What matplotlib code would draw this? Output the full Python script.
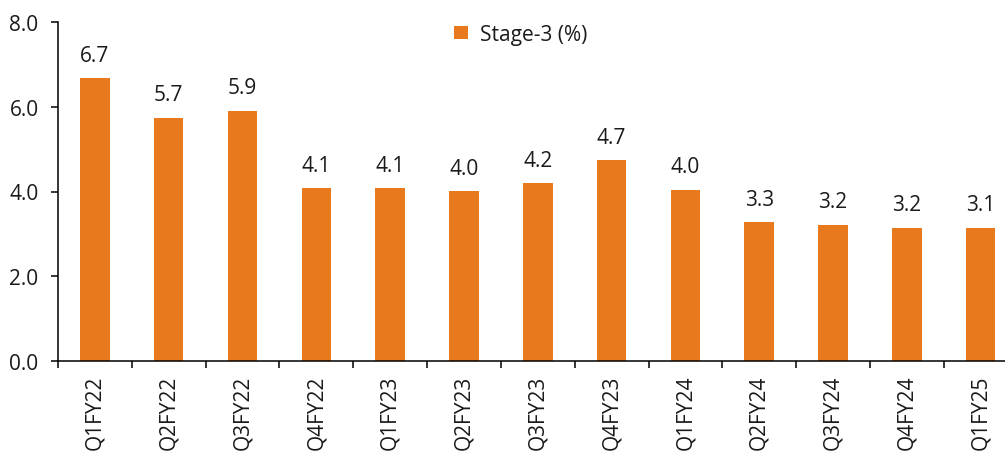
import matplotlib
matplotlib.use("Agg")
import matplotlib.pyplot as plt
import numpy as np

categories = ["Q1FY22", "Q2FY22", "Q3FY22", "Q4FY22", "Q1FY23", "Q2FY23", "Q3FY23",
              "Q4FY23", "Q1FY24", "Q2FY24", "Q3FY24", "Q4FY24", "Q1FY25"]
stage3 = [6.67, 5.74, 5.90, 4.08, 4.08, 4.01, 4.20, 4.74, 4.04, 3.27, 3.21, 3.15, 3.14]
labels = ["6.7", "5.7", "5.9", "4.1", "4.1", "4.0", "4.2", "4.7", "4.0", "3.3", "3.2", "3.2", "3.1"]
yticks = [0.0, 2.0, 4.0, 6.0, 8.0]

plt.rcParams['font.family'] = ['Open Sans', 'DejaVu Sans']
color = "#E8791C"
txt = "#1a1a1a"
fs = 15

fig = plt.figure(figsize=(10.05, 4.56), dpi=100)
ax = fig.add_axes([58/1005, 1-362/456, 959.6/1005, (362-23)/456])

x = np.arange(len(categories))
ax.bar(x, stage3, width=0.4, color=color, label="Stage-3 (%)", zorder=2)
for xi, v, l in zip(x, stage3, labels):
    ax.annotate(l, (xi, v), xytext=(0, 9), textcoords="offset points",
                ha="center", va="bottom", fontsize=fs, color=txt)

ax.set_xlim(-0.5, len(categories) - 0.5)
ax.set_ylim(0, 8)
ax.set_yticks(yticks)
ax.set_yticklabels([f"{t:.1f}" for t in yticks], fontsize=fs, color=txt)
ax.set_xticks(x)
ax.set_xticklabels(categories, rotation=90, fontsize=fs, color=txt)
ax.set_xticks(np.arange(len(categories) + 1) - 0.5, minor=True)
ax.tick_params(axis="x", which="major", length=0, pad=10)
ax.tick_params(axis="x", which="minor", length=5, width=1.1, direction="out")
ax.tick_params(axis="y", which="major", length=5, width=1.1, direction="out", pad=9)
for s in ["top", "right"]:
    ax.spines[s].set_visible(False)
for s in ["left", "bottom"]:
    ax.spines[s].set_linewidth(1.1)

leg = ax.legend(loc="upper center", bbox_to_anchor=(0.4825, 1.05), frameon=False,
                fontsize=fs, handlelength=0.65, handleheight=0.65, handletextpad=0.6)
for t in leg.get_texts():
    t.set_color(txt)

fig.savefig("out.png", dpi=100)
